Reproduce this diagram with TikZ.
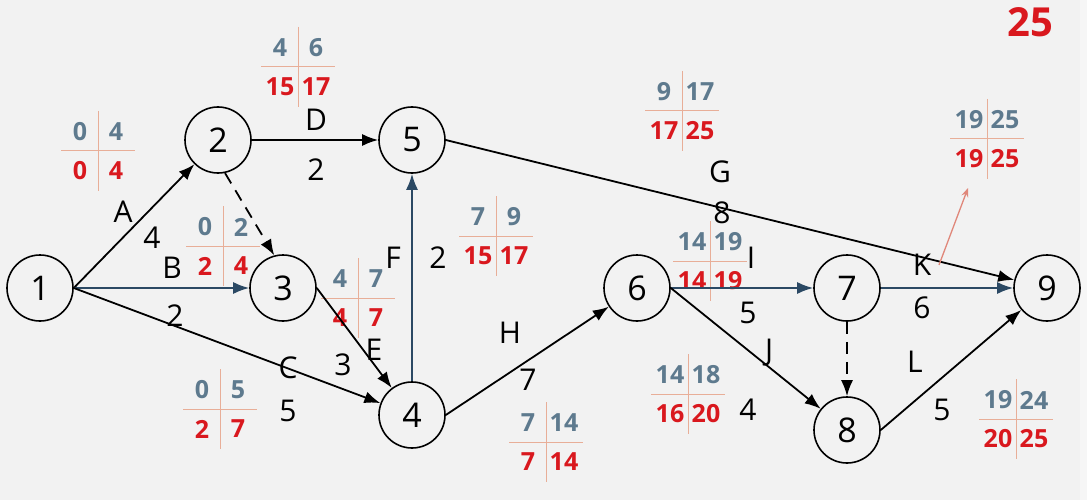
\documentclass[tikz,border=0pt]{standalone}
\usepackage{fontspec}
\setmainfont{Open Sans}
\usetikzlibrary{arrows.meta}
\definecolor{bg}{HTML}{F2F2F2}
\definecolor{bgedge}{HTML}{F6F6F6}
\definecolor{numblue}{HTML}{5E7A8E}
\definecolor{numred}{HTML}{D9181E}
\definecolor{crossc}{HTML}{E8AE98}
\definecolor{darkblue}{HTML}{2B4964}
\definecolor{hintred}{HTML}{E0877A}
\tikzset{
  ev/.style={circle,draw=black,line width=1.6pt,minimum size=66pt,inner sep=0pt,font=\fontsize{34}{38}\selectfont},
  act/.style={line width=1.8pt,-{Latex[length=16pt,width=12pt]}},
  actb/.style={act,draw=darkblue},
  dum/.style={act,dash pattern=on 12pt off 8pt},
  lab/.style={font=\fontsize{30}{34}\selectfont,inner sep=0pt},
  tnum/.style={font=\fontsize{25}{29}\bfseries\selectfont,inner sep=0pt},
  tline/.style={draw=crossc,line width=1pt}
}
\newcommand{\tbl}[6]{%
  \draw[tline] (#1-37,#2) -- (#1+37,#2);
  \draw[tline] (#1,#2-40) -- (#1,#2+40);
  \node[tnum,text=numblue] at (#1-18,#2-19) {#3};
  \node[tnum,text=numblue] at (#1+18,#2-19) {#4};
  \node[tnum,text=numred] at (#1-18,#2+20) {#5};
  \node[tnum,text=numred] at (#1+18,#2+20) {#6};
}
\begin{document}
\begin{tikzpicture}[x=1pt,y=-1pt]
\fill[bg] (0,0) rectangle (1087,500);
\fill[bgedge] (1080,0) rectangle (1087,500);
\useasboundingbox (0,0) rectangle (1087,500);

% tables
\tbl{98}{151}{0}{4}{0}{4}
\tbl{298}{67}{4}{6}{15}{17}
\tbl{223}{246}{0}{2}{2}{4}
\tbl{358}{298}{4}{7}{4}{7}
\tbl{496}{236}{7}{9}{15}{17}
\tbl{220}{409}{0}{5}{2}{7}
\tbl{546}{442}{7}{14}{7}{14}
\tbl{682}{111}{9}{17}{17}{25}
\tbl{710}{261}{14}{19}{14}{19}
\tbl{688}{394}{14}{18}{16}{20}
\tbl{987}{139}{19}{25}{19}{25}
\tbl{1016}{419}{19}{24}{20}{25}

% events
\node[ev] (n1) at (40,288) {1};
\node[ev] (n2) at (218,140) {2};
\node[ev] (n3) at (283,288) {3};
\node[ev] (n4) at (412,415) {4};
\node[ev] (n5) at (412,140) {5};
\node[ev] (n6) at (637,288) {6};
\node[ev] (n7) at (847,288) {7};
\node[ev] (n8) at (847,430) {8};
\node[ev] (n9) at (1047,288) {9};

% activities
\draw[act] (n1.east) -- (n2);
\draw[actb] (n1.east) -- (n3);
\draw[act] (n1.east) -- (n4);
\draw[act] (n2) -- (n5);
\draw[dum] (n2.-78) -- (n3.105);
\draw[act] (n3.east) -- (n4);
\draw[actb] (n4) -- (n5);
\draw[act] (n4.east) -- (n6);
\draw[act] (n5.east) -- (n9);
\draw[actb] (n6) -- (n7);
\draw[act] (n6.east) -- (n8);
\draw[dum] (n7) -- (n8);
\draw[actb] (n7) -- (n9);
\draw[act] (n8.east) -- (n9);

% labels
\node[lab] (lA) at (123,212) {A};
\node[lab] (dA) at (152,238) {4};
\node[lab] (lB) at (172,268) {B};
\node[lab] (dB) at (175,316) {2};
\node[lab] (lC) at (288,368) {C};
\node[lab] (dC) at (288,411) {5};
\node[lab] (lD) at (316,120) {D};
\node[lab] (dD) at (316,170) {2};
\node[lab] (lE) at (374,350) {E};
\node[lab] (dE) at (343,365) {3};
\node[lab] (lF) at (393,258) {F};
\node[lab] (dF) at (438,258) {2};
\node[lab] (lG) at (720,172) {G};
\node[lab] (dG) at (722,213) {8};
\node[lab] (lH) at (510,333) {H};
\node[lab] (dH) at (528,380) {7};
\node[lab] (lI) at (751,258) {I};
\node[lab] (dI) at (748,313) {5};
\node[lab] (lJ) at (769,353) {J};
\node[lab] (dJ) at (748,410) {4};
\node[lab] (lK) at (922,265) {K};
\node[lab] (dK) at (922,308) {6};
\node[lab] (lL) at (915,362) {L};
\node[lab] (dL) at (942,410) {5};

% hint arrow and total
\coordinate (hs) at (939,265);
\coordinate (he) at (968,188);
\draw[draw=hintred,line width=1.3pt,-{Stealth[length=9pt,width=7pt]}] (hs) -- (he);
\node[font=\fontsize{40}{44}\bfseries\selectfont,text=numred,inner sep=0pt] (tot) at (1030,22) {25};
\end{tikzpicture}
\end{document}
